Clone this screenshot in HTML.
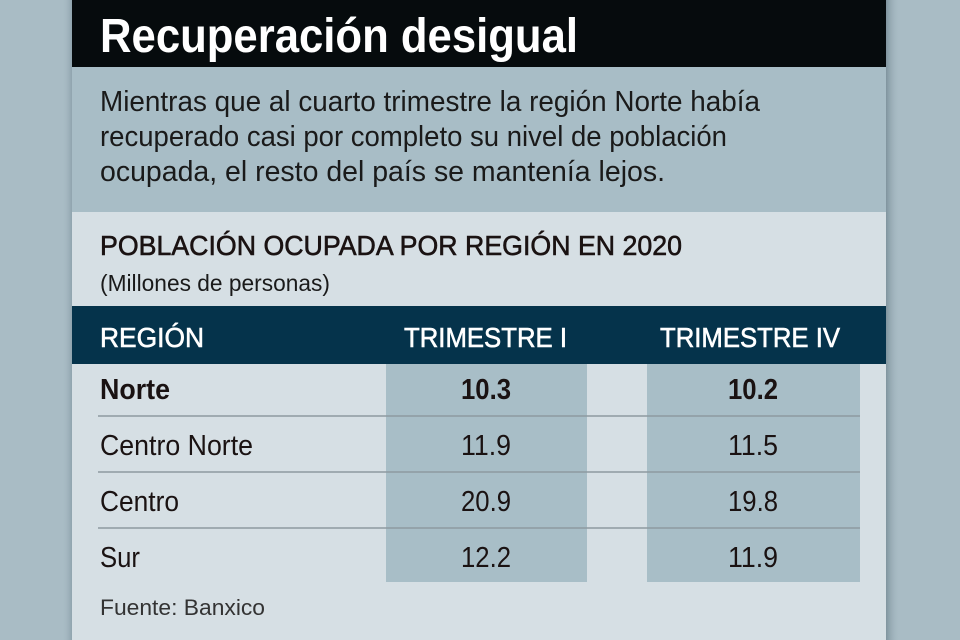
<!DOCTYPE html>
<html><head><meta charset="utf-8"><style>html,body{margin:0;padding:0;background:#a9bcc5;}</style></head>
<body>
<svg width="960" height="640" xmlns="http://www.w3.org/2000/svg" style="display:block" font-family="Liberation Sans, sans-serif">
<defs>
<linearGradient id="sr" x1="0" x2="1"><stop offset="0" stop-color="#7f949e"/><stop offset="1" stop-color="#a9bcc5" stop-opacity="0"/></linearGradient>
<linearGradient id="sl" x1="1" x2="0"><stop offset="0" stop-color="#8fa3ad"/><stop offset="1" stop-color="#a9bcc5" stop-opacity="0"/></linearGradient>
</defs>
<rect width="960" height="640" fill="#a9bcc5"/>
<rect x="62" y="0" width="10" height="640" fill="url(#sl)"/>
<rect x="886" y="0" width="14" height="640" fill="url(#sr)"/>
<rect x="72" y="0" width="814" height="67" fill="#060b0d"/>
<rect x="72" y="67" width="814" height="145" fill="#a8bdc6"/>
<rect x="72" y="212" width="814" height="428" fill="#d6dfe4"/>
<rect x="72" y="306" width="814" height="58" fill="#05334b"/>
<rect x="386" y="364" width="201" height="218" fill="#a8bec7"/>
<rect x="647" y="364" width="213" height="218" fill="#a8bec7"/>
<g stroke="#8d9aa0" stroke-width="1.5">
<line x1="98" y1="416" x2="860" y2="416"/><line x1="98" y1="472" x2="860" y2="472"/><line x1="98" y1="528" x2="860" y2="528"/>
</g>
<text x="100" y="52" font-size="48" font-weight="bold" fill="#fff" textLength="478" lengthAdjust="spacingAndGlyphs">Recuperación desigual</text>
<g font-size="29" fill="#1a1a1a">
<text x="100" y="111" textLength="660" lengthAdjust="spacingAndGlyphs">Mientras que al cuarto trimestre la región Norte había</text>
<text x="100" y="146" textLength="627" lengthAdjust="spacingAndGlyphs">recuperado casi por completo su nivel de población</text>
<text x="100" y="181" textLength="565" lengthAdjust="spacingAndGlyphs">ocupada, el resto del país se mantenía lejos.</text>
</g>
<text x="100" y="255" font-size="28" fill="#1a1212" stroke="#1a1212" stroke-width="0.6" textLength="582" lengthAdjust="spacingAndGlyphs">POBLACIÓN OCUPADA POR REGIÓN EN 2020</text>
<text x="100" y="291" font-size="23" fill="#1a1a1a" textLength="230" lengthAdjust="spacingAndGlyphs">(Millones de personas)</text>
<g font-size="28" fill="#fff" stroke="#fff" stroke-width="0.6">
<text x="100" y="347" textLength="104" lengthAdjust="spacingAndGlyphs">REGIÓN</text>
<text x="404" y="347" textLength="163" lengthAdjust="spacingAndGlyphs">TRIMESTRE I</text>
<text x="660" y="347" textLength="180" lengthAdjust="spacingAndGlyphs">TRIMESTRE IV</text>
</g>
<g font-size="29" fill="#1a1212">
<text x="100" y="399" font-weight="bold" textLength="70" lengthAdjust="spacingAndGlyphs">Norte</text>
<text x="100" y="455" textLength="153" lengthAdjust="spacingAndGlyphs">Centro Norte</text>
<text x="100" y="511" textLength="79" lengthAdjust="spacingAndGlyphs">Centro</text>
<text x="100" y="567" textLength="40" lengthAdjust="spacingAndGlyphs">Sur</text>
<g text-anchor="middle">
<text x="486" y="399" font-weight="bold" textLength="50" lengthAdjust="spacingAndGlyphs">10.3</text>
<text x="753" y="399" font-weight="bold" textLength="50" lengthAdjust="spacingAndGlyphs">10.2</text>
<text x="486" y="455" textLength="50" lengthAdjust="spacingAndGlyphs">11.9</text>
<text x="753" y="455" textLength="50" lengthAdjust="spacingAndGlyphs">11.5</text>
<text x="486" y="511" textLength="50" lengthAdjust="spacingAndGlyphs">20.9</text>
<text x="753" y="511" textLength="50" lengthAdjust="spacingAndGlyphs">19.8</text>
<text x="486" y="567" textLength="50" lengthAdjust="spacingAndGlyphs">12.2</text>
<text x="753" y="567" textLength="50" lengthAdjust="spacingAndGlyphs">11.9</text>
</g>
</g>
<text x="100" y="615" font-size="22" fill="#333" textLength="165" lengthAdjust="spacingAndGlyphs">Fuente: Banxico</text>
</svg>
</body></html>
